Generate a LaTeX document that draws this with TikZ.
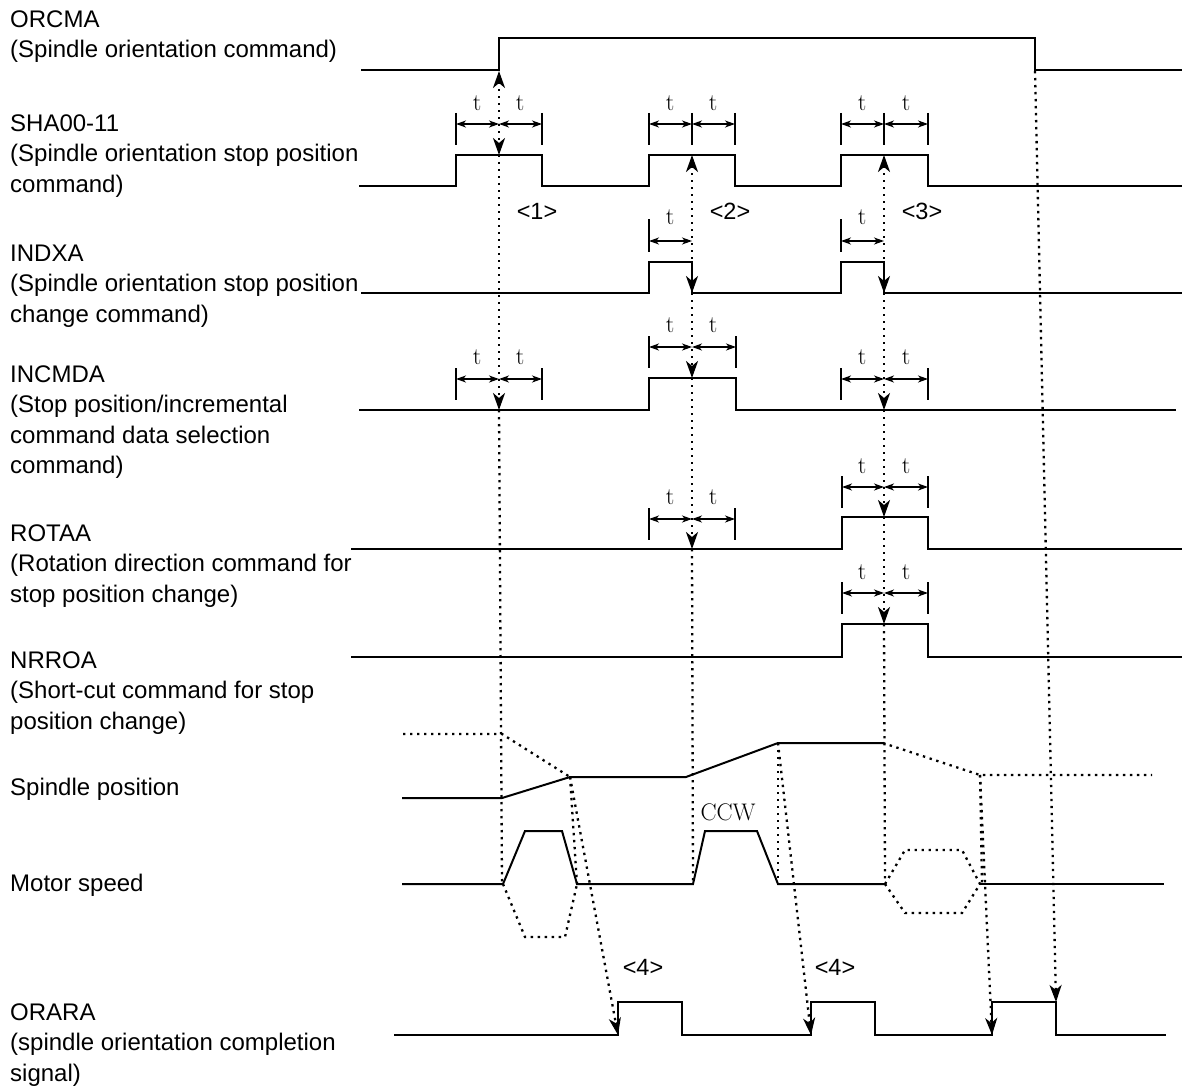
\documentclass[tikz,border=0pt]{standalone}
\usepackage{fontspec}
\newfontfamily\arial{Liberation Sans}
\usetikzlibrary{arrows.meta}
\begin{document}
\begin{tikzpicture}[x=1pt,y=-1pt,
  sig/.style={line width=2pt, line join=miter, line cap=rect},
  dots/.style={line width=2.3pt, dash pattern=on 2.4pt off 4.6pt, line cap=butt},
  arr/.style={-{Stealth[length=17pt,width=12pt,inset=5pt]}},
  biarr/.style={{Stealth[length=17pt,width=12pt,inset=5pt]}-{Stealth[length=17pt,width=12pt,inset=5pt]}},
  tick/.style={line width=2pt},
  dimarr/.style={line width=1.6pt,{Stealth[length=10pt,width=7pt,inset=3pt]}-{Stealth[length=10pt,width=7pt,inset=3pt]}},
  lbl/.style={anchor=north west, inner sep=0pt, align=left, font=\arial\fontsize{24}{30.5}\selectfont},
  tl/.style={inner sep=0pt, font=\fontsize{24}{24}\selectfont},
  num/.style={inner sep=0pt, font=\arial\fontsize{23.5}{23.5}\selectfont}]

\useasboundingbox (0,0) rectangle (1182,1086);
\fill[white] (0,0) rectangle (1182,1086);

% ---------------- labels ----------------
\node[lbl] (lORCMA) at (10,9) {\rule{0pt}{18pt}ORCMA\\(Spindle orientation command)};
\node[lbl] (lSHA) at (10,113) {\rule{0pt}{18pt}SHA00-11\\(Spindle orientation stop position\\command)};
\node[lbl] (lINDXA) at (10,243) {\rule{0pt}{18pt}INDXA\\(Spindle orientation stop position\\change command)};
\node[lbl] (lINCMDA) at (10,364) {\rule{0pt}{18pt}INCMDA\\(Stop position/incremental\\command data selection\\command)};
\node[lbl] (lROTAA) at (10,523) {\rule{0pt}{18pt}ROTAA\\(Rotation direction command for\\stop position change)};
\node[lbl] (lNRROA) at (10,650) {\rule{0pt}{18pt}NRROA\\(Short-cut command for stop\\position change)};
\node[lbl] (lSP) at (10,777) {\rule{0pt}{18pt}Spindle position};
\node[lbl] (lMS) at (10,873) {\rule{0pt}{18pt}Motor speed};
\node[lbl] (lORARA) at (10,1002) {\rule{0pt}{18pt}ORARA\\(spindle orientation completion\\signal)};

% ---------------- signals ----------------
% ORCMA
\draw[sig] (362,70) -- (499,70) -- (499,38) -- (1035,38) -- (1035,70) -- (1182,70);
% SHA00-11
\draw[sig] (360,186) -- (456,186) -- (456,155) -- (542,155) -- (542,186)
  -- (649,186) -- (649,155) -- (735,155) -- (735,186)
  -- (841,186) -- (841,155) -- (928,155) -- (928,186) -- (1182,186);
% INDXA
\draw[sig] (362,293) -- (649,293) -- (649,262) -- (692,262) -- (692,293)
  -- (841,293) -- (841,262) -- (884,262) -- (884,293) -- (1182,293);
% INCMDA
\draw[sig] (360,410) -- (649,410) -- (649,378) -- (736,378) -- (736,410) -- (1175,410);
% ROTAA
\draw[sig] (352,549) -- (842,549) -- (842,517) -- (928,517) -- (928,549) -- (1182,549);
% NRROA
\draw[sig] (352,657) -- (842,657) -- (842,624) -- (928,624) -- (928,657) -- (1182,657);
% Spindle position
\draw[sig] (403,798) -- (502,798) -- (570,777) -- (686,777) -- (778,743) -- (883,743);
\draw[dots] (403,734) -- (502,734) -- (570,777);
\draw[dots] (883,743) -- (980,775) -- (1152,775);
% Motor speed
\draw[sig] (403,884) -- (503,884) -- (525,831) -- (562,831) -- (577,884)
  -- (693,884) -- (705,831) -- (757,831) -- (778,884) -- (885,884);
\draw[sig] (980,884) -- (1163,884);
\draw[dots] (503,884) -- (525,937) -- (565,937) -- (577,884);
\draw[dots] (885,884) -- (905,850) -- (962,850) -- (980,884) -- (962,913) -- (905,913) -- cycle;
\node[tl] (ccw) at (728,812) {CCW};
% ORARA
\draw[sig] (395,1035) -- (618,1035) -- (618,1002) -- (682,1002) -- (682,1035)
  -- (811,1035) -- (811,1002) -- (875,1002) -- (875,1035)
  -- (992,1035) -- (992,1002) -- (1056,1002) -- (1056,1035) -- (1165,1035);

% ---------------- key points ----------------
\coordinate (orcUp) at (499,71);
\coordinate (orcDn) at (1035,71);
\coordinate (shaA) at (499,155);
\coordinate (shaB) at (692,155);
\coordinate (shaC) at (884,155);
\coordinate (indB) at (692,293);
\coordinate (indC) at (884,293);
\coordinate (incA) at (499,410);
\coordinate (incB) at (692,378);
\coordinate (incC) at (884,410);
\coordinate (rotB) at (692,549);
\coordinate (rotC) at (884,517);
\coordinate (nrrC) at (884,624);
\coordinate (msA) at (502,884);
\coordinate (msB) at (693,884);
\coordinate (msC) at (885,884);
\coordinate (spA) at (570,777);
\coordinate (spB) at (778,743);
\coordinate (spC) at (980,775);
\coordinate (msA2) at (577,884);
\coordinate (msB2) at (778,884);
\coordinate (msC2) at (982,884);
\coordinate (orA) at (618,1035);
\coordinate (orB) at (811,1035);
\coordinate (orC) at (992,1035);
\coordinate (orD) at (1056,1002);

% ---------------- dotted connectors ----------------
\draw[dots,biarr] (orcUp) -- (shaA);
\draw[dots,arr] (shaA) -- (incA);
\draw[dots] (incA) -- (msA);

\draw[dots,biarr] (shaB) -- (indB);
\draw[dots,arr] (indB) -- (incB);
\draw[dots,arr] (incB) -- (rotB);
\draw[dots] (rotB) -- (msB);

\draw[dots,biarr] (shaC) -- (indC);
\draw[dots,arr] (indC) -- (incC);
\draw[dots,arr] (incC) -- (rotC);
\draw[dots,arr] (rotC) -- (nrrC);
\draw[dots] (nrrC) -- (msC);

\draw[dots,arr] (orcDn) -- (orD);

\draw[dots] (spA) -- (msA2);
\draw[dots,arr] (spA) -- (orA);
\draw[dots] (spB) -- (msB2);
\draw[dots,arr] (spB) -- (orB);
\draw[dots] (spC) -- (msC2);
\draw[dots,arr] (spC) -- (orC);

% ---------------- t dimensions ----------------
% SHA00-11 (arrow y 124)
\draw[tick] (456,113) -- (456,145);  \draw[tick] (542,113) -- (542,145);
\draw[dimarr] (456,124) -- (499,124); \draw[dimarr] (499,124) -- (542,124);
\node[tl] (t1) at (477,103) {t}; \node[tl] (t2) at (520,103) {t};
\draw[tick] (649,113) -- (649,145); \draw[tick] (692,113) -- (692,145); \draw[tick] (735,113) -- (735,145);
\draw[dimarr] (649,124) -- (692,124); \draw[dimarr] (692,124) -- (735,124);
\node[tl] (t3) at (670,103) {t}; \node[tl] (t4) at (713,103) {t};
\draw[tick] (841,113) -- (841,145); \draw[tick] (884,113) -- (884,145); \draw[tick] (928,113) -- (928,145);
\draw[dimarr] (841,124) -- (884,124); \draw[dimarr] (884,124) -- (928,124);
\node[tl] (t5) at (862,103) {t}; \node[tl] (t6) at (906,103) {t};
% INDXA (arrow y 241)
\draw[tick] (649,219) -- (649,252); \draw[dimarr] (649,241) -- (692,241);
\node[tl] (t7) at (670,217) {t};
\draw[tick] (841,219) -- (841,252); \draw[dimarr] (841,241) -- (884,241);
\node[tl] (t8) at (862,217) {t};
% INCMDA
\draw[tick] (456,368) -- (456,400); \draw[tick] (542,368) -- (542,400);
\draw[dimarr] (456,379) -- (499,379); \draw[dimarr] (499,379) -- (542,379);
\node[tl] (t9) at (477,357) {t}; \node[tl] (t10) at (520,357) {t};
\draw[tick] (649,336) -- (649,368); \draw[tick] (736,336) -- (736,368);
\draw[dimarr] (649,347) -- (692,347); \draw[dimarr] (692,347) -- (736,347);
\node[tl] (t11) at (670,325) {t}; \node[tl] (t12) at (713,325) {t};
\draw[tick] (841,368) -- (841,400); \draw[tick] (928,368) -- (928,400);
\draw[dimarr] (841,379) -- (884,379); \draw[dimarr] (884,379) -- (928,379);
\node[tl] (t13) at (862,357) {t}; \node[tl] (t14) at (906,357) {t};
% ROTAA
\draw[tick] (649,508) -- (649,540); \draw[tick] (735,508) -- (735,540);
\draw[dimarr] (649,519) -- (692,519); \draw[dimarr] (692,519) -- (735,519);
\node[tl] (t15) at (670,497) {t}; \node[tl] (t16) at (713,497) {t};
\draw[tick] (842,476) -- (842,508); \draw[tick] (928,476) -- (928,508);
\draw[dimarr] (842,487) -- (884,487); \draw[dimarr] (884,487) -- (928,487);
\node[tl] (t17) at (862,466) {t}; \node[tl] (t18) at (906,466) {t};
% NRROA
\draw[tick] (842,582) -- (842,614); \draw[tick] (928,582) -- (928,614);
\draw[dimarr] (842,593) -- (884,593); \draw[dimarr] (884,593) -- (928,593);
\node[tl] (t19) at (862,572) {t}; \node[tl] (t20) at (906,572) {t};

% ---------------- numbered marks ----------------
\node[num] (n1) at (537,211) {<1>};
\node[num] (n2) at (730,211) {<2>};
\node[num] (n3) at (922,211) {<3>};
\node[num] (n4a) at (643,967) {<4>};
\node[num] (n4b) at (835,967) {<4>};
\end{tikzpicture}
\end{document}
